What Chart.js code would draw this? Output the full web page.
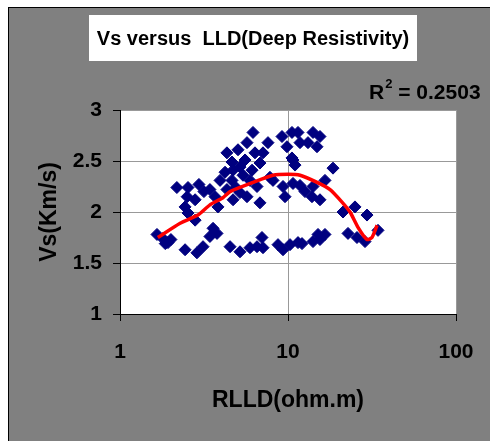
<!DOCTYPE html>
<html>
<head>
<meta charset="utf-8">
<script src="https://cdn.jsdelivr.net/npm/chart.js@4/dist/chart.umd.min.js"></script>
<style>
  html, body { margin: 0; padding: 0; background: #ffffff; }
  #wrap { width: 490px; height: 441px; }
</style>
</head>
<body>
<div id="wrap"><canvas id="vsChart" width="490" height="441"></canvas></div>
<script>
// RLLD (ohm.m) and Vs (Km/s)
var rlld = [1.66, 1.80, 1.93, 2.01, 1.86, 2.44, 2.87, 3.12, 3.58, 3.78, 3.43, 4.52, 5.18, 5.94, 6.54, 7.00, 7.10, 8.72, 9.34, 10.28,
            11.47, 12.12, 14.09, 15.09, 16.60, 15.50,
            2.18, 2.54, 2.95, 2.51, 2.44, 2.80, 2.54, 2.80, 3.43, 3.68, 3.83, 4.33, 4.64, 5.04, 5.18, 5.70, 6.19, 6.36, 6.11, 5.94,
            7.10, 7.60, 6.81, 4.71, 4.64, 4.33, 4.71, 5.18, 5.70, 6.81, 6.54, 7.81, 9.21, 9.86, 10.56, 9.34, 9.60, 8.14, 10.71, 10.71,
            11.47, 11.79, 13.15, 14.09, 15.50, 14.88, 10.56, 11.01, 18.53, 16.60, 11.79, 12.62, 14.09, 13.89, 15.50, 21.26, 25.05, 29.53,
            22.76, 25.74, 28.73, 34.34, 3.94, 4.22, 5.55, 5.40, 4.90, 3.16];
var vs = [1.78, 1.74, 1.70, 1.73, 1.69, 1.63, 1.60, 1.66, 1.84, 1.79, 1.76, 1.66, 1.61, 1.65, 1.66, 1.75, 1.65, 1.68, 1.63, 1.68,
          1.70, 1.69, 1.71, 1.78, 1.78, 1.73,
          2.24, 2.24, 2.27, 2.15, 2.05, 2.12, 1.99, 1.92, 2.22, 2.15, 2.05, 2.58, 2.49, 2.61, 2.44, 2.68, 2.78, 2.58, 2.41, 2.31,
          2.58, 2.68, 2.48, 2.41, 2.31, 2.22, 2.12, 2.19, 2.15, 2.09, 2.25, 2.34, 2.74, 2.64, 2.78, 2.25, 2.15, 2.31, 2.51, 2.28,
          2.78, 2.68, 2.68, 2.78, 2.74, 2.64, 2.53, 2.46, 2.43, 2.31, 2.26, 2.20, 2.25, 2.15, 2.12, 2.00, 2.05, 1.97,
          1.79, 1.75, 1.71, 1.82, 2.31, 2.39, 2.51, 2.36, 2.24, 2.20];

// red trend curve
var trendX = [1.68, 2.28, 2.91, 3.43, 4.10, 4.52, 6.19, 8.14, 10.0, 11.8, 14.9, 17.8, 20.9, 23.4, 26.1, 29.5, 31.6, 33.9];
var trendY = [1.75, 1.89, 1.97, 2.07, 2.14, 2.20, 2.29, 2.36, 2.37, 2.36, 2.29, 2.22, 2.10, 2.00, 1.85, 1.73, 1.75, 1.87];

var xTicks = [1, 10, 100];
var yTicks = [1, 1.5, 2, 2.5, 3];
var chartTitle = 'Vs versus  LLD(Deep Resistivity)';
var rSquared = '0.2503';

var FONT = '"Liberation Sans", Arial, sans-serif';

function pairs(xs, ys) {
  var out = [];
  for (var i = 0; i < xs.length; i++) out.push({x: xs[i], y: ys[i]});
  return out;
}

var frame = {
  id: 'frame',
  beforeDraw: function(chart) {
    var ctx = chart.ctx, a = chart.chartArea;
    ctx.save();
    ctx.fillStyle = '#808080';
    ctx.fillRect(8, 7, 482, 434);
    ctx.strokeStyle = '#000000';
    ctx.lineWidth = 1;
    ctx.strokeRect(8.5, 7.5, 490, 440);
    ctx.fillStyle = '#ffffff';
    ctx.fillRect(a.left, a.top, a.right - a.left, a.bottom - a.top);
    // title box
    ctx.fillRect(89, 15, 328, 46);
    ctx.restore();
  },
  afterDraw: function(chart) {
    var ctx = chart.ctx;
    ctx.save();
    ctx.fillStyle = '#000000';
    ctx.textBaseline = 'middle';
    ctx.textAlign = 'center';
    ctx.font = 'bold 20px ' + FONT;
    ctx.fillText(chartTitle, 253, 39);
    // R^2 label
    ctx.textAlign = 'left';
    ctx.font = 'bold 21px ' + FONT;
    ctx.fillText('R', 369, 93);
    var w = ctx.measureText('R').width;
    ctx.font = 'bold 13px ' + FONT;
    ctx.fillText('2', 369 + w + 1, 84);
    var w2 = ctx.measureText('2').width;
    ctx.font = 'bold 21px ' + FONT;
    ctx.fillText(' = ' + rSquared, 369 + w + w2 + 1, 93);
    ctx.restore();
  }
};

new Chart(document.getElementById('vsChart'), {
  type: 'scatter',
  data: {
    datasets: [{
      label: 'trend',
      data: pairs(trendX, trendY),
      showLine: true,
      borderColor: '#ff0000',
      borderWidth: 3.5,
      pointRadius: 0,
      tension: 0.2,
      fill: false,
      order: 0
    }, {
      label: 'Vs',
      data: pairs(rlld, vs),
      pointStyle: 'rectRot',
      pointRadius: 6,
      backgroundColor: '#000080',
      borderColor: '#000080',
      borderWidth: 1,
      order: 1
    }]
  },
  options: {
    responsive: false,
    animation: false,
    events: [],
    layout: {autoPadding: false, padding: {left: 20, right: 34, top: 110, bottom: 0}},
    plugins: {
      legend: {display: false},
      title: {display: false},
      tooltip: {enabled: false}
    },
    scales: {
      x: {
        type: 'logarithmic',
        min: 1,
        max: 100,
        afterBuildTicks: function(s) { s.ticks = xTicks.map(function(v) { return {value: v}; }); },
        afterFit: function(s) { s.height = 127; s.paddingLeft = 0; s.paddingRight = 0; },
        grid: {color: '#999999', lineWidth: 1, tickColor: '#000000', tickLength: 7},
        border: {color: '#000000', width: 1},
        ticks: {
          color: '#000000',
          font: {family: FONT, size: 21, weight: 'bold'},
          padding: 19,
          maxRotation: 0,
          callback: function(v) { return String(v); }
        },
        title: {
          display: true,
          text: 'RLLD(ohm.m)',
          color: '#000000',
          font: {family: FONT, size: 23, weight: 'bold'},
          padding: {top: 0, bottom: 27}
        }
      },
      y: {
        min: 1,
        max: 3,
        afterBuildTicks: function(s) { s.ticks = yTicks.map(function(v) { return {value: v}; }); },
        afterFit: function(s) { s.width = 100; },
        grid: {color: '#999999', lineWidth: 1, tickColor: '#000000', tickLength: 7},
        border: {color: '#000000', width: 1},
        ticks: {
          color: '#000000',
          font: {family: FONT, size: 21, weight: 'bold'},
          padding: 11,
          callback: function(v) { return String(v); }
        },
        title: {
          display: true,
          text: 'Vs(Km/s)',
          color: '#000000',
          font: {family: FONT, size: 23, weight: 'bold'},
          padding: {top: 16, bottom: 0}
        }
      }
    }
  },
  plugins: [frame]
});
</script>
</body>
</html>
